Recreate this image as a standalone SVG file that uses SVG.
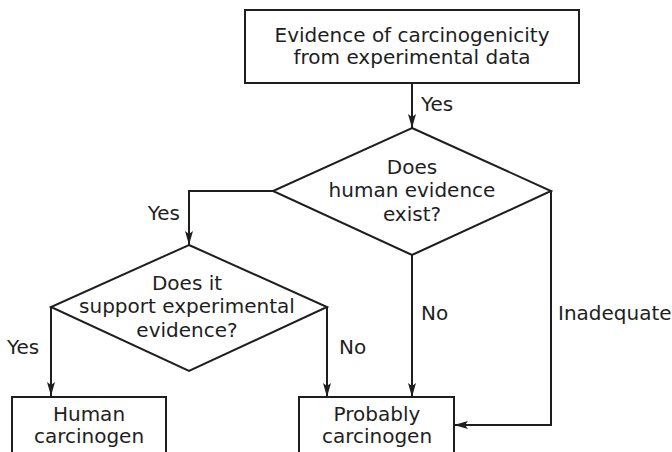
<svg xmlns="http://www.w3.org/2000/svg" width="672" height="452" viewBox="0 0 672 452">
  <style>
    .shape { fill: #ffffff; stroke: #1e1e1e; stroke-width: 2; }
    .edge { fill: none; stroke: #1e1e1e; stroke-width: 2; }
    text { font-family: "DejaVu Sans", "Liberation Sans", sans-serif; font-size: 20px; fill: #1e1e1e; }
    .c { text-anchor: middle; }
    .e { text-anchor: end; }
  </style>
  <defs>
    <marker id="arrow" markerUnits="userSpaceOnUse" markerWidth="15" markerHeight="10" refX="14" refY="5" orient="auto">
      <path d="M0,1 L14,5 L0,9 L3,5 Z" fill="#1e1e1e"/>
    </marker>
  </defs>
  <rect width="672" height="452" fill="#ffffff"/>

  <!-- connectors -->
  <g id="connectors">
    <line class="edge" x1="412" y1="83" x2="412" y2="128" marker-end="url(#arrow)"/>
    <polyline class="edge" points="273,191 189,191 189,245" marker-end="url(#arrow)"/>
    <line class="edge" x1="412" y1="255" x2="412" y2="397" marker-end="url(#arrow)"/>
    <polyline class="edge" points="551,191 551,425 454,425" marker-end="url(#arrow)"/>
    <line class="edge" x1="51" y1="307" x2="51" y2="396" marker-end="url(#arrow)"/>
    <line class="edge" x1="327" y1="307" x2="327" y2="397" marker-end="url(#arrow)"/>
    <text x="421" y="111">Yes</text>
    <text class="e" x="180" y="220">Yes</text>
    <text x="421" y="320">No</text>
    <text x="558" y="320">Inadequate</text>
    <text x="7" y="354">Yes</text>
    <text x="339" y="354">No</text>
  </g>

  <g id="evidence">
    <rect class="shape" x="245" y="10" width="334" height="73"/>
    <text class="c" x="412" y="42">Evidence of carcinogenicity</text>
    <text class="c" x="412" y="64">from experimental data</text>
  </g>

  <g id="human-evidence">
    <polygon class="shape" points="412,128 551,191 412,255 273,191"/>
    <text class="c" x="412" y="174">Does</text>
    <text class="c" x="412" y="197">human evidence</text>
    <text class="c" x="412" y="221">exist?</text>
  </g>

  <g id="support">
    <polygon class="shape" points="189,245 327,307 189,371 51,307"/>
    <text class="c" x="187" y="290">Does it</text>
    <text class="c" x="187" y="313">support experimental</text>
    <text class="c" x="187" y="337">evidence?</text>
  </g>

  <g id="human-carcinogen">
    <rect class="shape" x="12" y="397" width="154" height="70"/>
    <text class="c" x="89" y="421">Human</text>
    <text class="c" x="89" y="443">carcinogen</text>
  </g>

  <g id="probable-carcinogen">
    <rect class="shape" x="299" y="397" width="155" height="70"/>
    <text class="c" x="377" y="421">Probably</text>
    <text class="c" x="377" y="443">carcinogen</text>
  </g>
</svg>
